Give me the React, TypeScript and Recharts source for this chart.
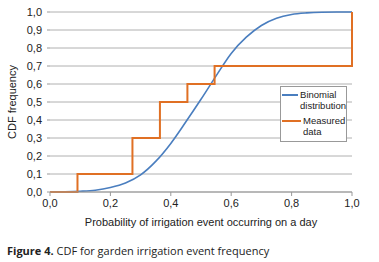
import { CartesianGrid, Line, LineChart, XAxis, YAxis } from "recharts";

// CDF of irrigation event probability: binomial fit vs measured steps.

const binomX = [0, 0.05, 0.1, 0.15, 0.2, 0.25, 0.3, 0.35, 0.4, 0.45, 0.5, 0.55, 0.6, 0.65, 0.7, 0.75, 0.8, 0.85, 0.9, 0.95, 1.0];
const binomY = [0, 0.001, 0.004, 0.01, 0.025, 0.05, 0.095, 0.17, 0.27, 0.39, 0.515, 0.645, 0.77, 0.86, 0.925, 0.965, 0.986, 0.995, 0.999, 1.0, 1.0];

const measuredX = [0, 0.091, 0.273, 0.364, 0.455, 0.545, 1.0];
const measuredY = [0, 0.1, 0.3, 0.5, 0.6, 0.7, 1.0];

const xTicks = [0, 0.2, 0.4, 0.6, 0.8, 1.0];
const yTicks = [0, 0.1, 0.2, 0.3, 0.4, 0.5, 0.6, 0.7, 0.8, 0.9, 1.0];

const seriesNames = ["Binomial\ndistribution", "Measured\ndata"];
const BLUE = "#4a7ebf";
const ORANGE = "#e07024";

const binomData = binomX.map((x, i) => ({ x, y: binomY[i] }));
const measuredData = measuredX.map((x, i) => ({ x, y: measuredY[i] }));

const fmt = (v: number) => v.toFixed(1).replace(".", ",");
const FONT = "'Liberation Sans', Arial, sans-serif";
const tickFont = { fontFamily: FONT, fontSize: 11, fill: "#222" };

function LegendBox() {
  const items = [
    { name: seriesNames[0], color: BLUE },
    { name: seriesNames[1], color: ORANGE },
  ];
  return (
    <div
      style={{
        position: "absolute",
        left: 280,
        top: 86,
        boxSizing: "border-box",
        width: 67,
        height: 56,
        background: "#fff",
        border: "1px solid #999",
        padding: "2px 0 0 1px",
        fontFamily: FONT,
        fontSize: 9.5,
        lineHeight: "11px",
        color: "#222",
      }}
    >
      {items.map((it) => (
        <div key={it.name} style={{ display: "flex", alignItems: "flex-start", marginBottom: 4 }}>
          <div style={{ width: 19, height: 2, background: it.color, marginTop: 5, marginRight: 2 }} />
          <div style={{ whiteSpace: "pre" }}>{it.name}</div>
        </div>
      ))}
    </div>
  );
}

export default function App() {
  return (
    <div style={{ position: "absolute", left: 0, top: 0, width: 379, height: 262, background: "#fff" }}>
      <LineChart width={379} height={235} margin={{ top: 12, right: 27, left: 0, bottom: 3 }}>
        <CartesianGrid vertical={false} stroke="#b0b0b0" />
        <XAxis
          type="number"
          dataKey="x"
          domain={[0, 1]}
          ticks={xTicks}
          interval={0}
          tickFormatter={fmt}
          height={40}
          tick={tickFont}
          tickSize={4}
          tickMargin={3}
          stroke="#999"
          allowDuplicatedCategory={false}
          label={{
            value: "Probability of irrigation event occurring on a day",
            position: "center",
            dy: 10,
            style: tickFont,
          }}
        />
        <YAxis
          type="number"
          dataKey="y"
          domain={[0, 1]}
          ticks={yTicks}
          interval={0}
          tickFormatter={fmt}
          width={50}
          tick={tickFont}
          tickSize={3}
          tickMargin={5}
          axisLine={false}
          stroke="#999"
          label={{
            value: "CDF frequency",
            angle: -90,
            position: "center",
            dx: -13,
            style: tickFont,
          }}
        />
        <Line
          data={binomData}
          dataKey="y"
          type="monotone"
          stroke={BLUE}
          strokeWidth={1.6}
          dot={false}
          isAnimationActive={false}
        />
        <Line
          data={measuredData}
          dataKey="y"
          type="stepAfter"
          stroke={ORANGE}
          strokeWidth={2}
          dot={false}
          isAnimationActive={false}
        />
      </LineChart>
      <LegendBox />
      <div
        style={{
          position: "absolute",
          left: 7,
          top: 243,
          fontFamily: "'Open Sans', sans-serif",
          fontSize: 11,
          color: "#222",
          whiteSpace: "nowrap",
        }}
      >
        <b>Figure 4.</b> CDF for garden irrigation event frequency
      </div>
    </div>
  );
}
